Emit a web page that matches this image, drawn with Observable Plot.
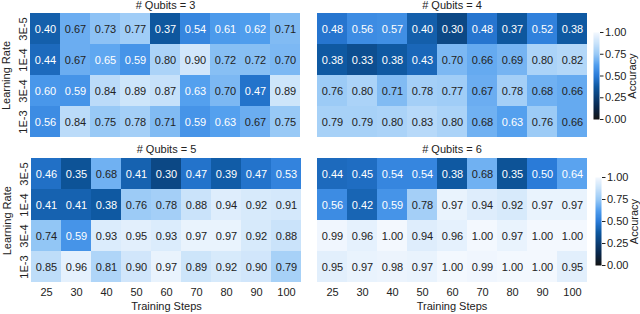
<!DOCTYPE html>
<html><head><meta charset="utf-8">
<script src="https://cdn.jsdelivr.net/npm/d3@7"></script>
<script src="https://cdn.jsdelivr.net/npm/@observablehq/plot@0.6"></script>
<style>
body{margin:0;background:#fff;}
#chart{position:relative;width:640px;height:314px;overflow:hidden;font-family:"Liberation Sans",Arial,sans-serif;}
#chart svg{position:absolute;overflow:visible;}
</style></head><body><div id="chart"></div>
<script>
const steps = [25, 30, 40, 50, 60, 70, 80, 90, 100];
const learningRates = ["3E-5", "1E-4", "3E-4", "1E-3"];
const qubits = [3, 4, 5, 6];
const acc3 = [
  [0.40, 0.67, 0.73, 0.77, 0.37, 0.54, 0.61, 0.62, 0.71],
  [0.44, 0.67, 0.65, 0.59, 0.80, 0.90, 0.72, 0.72, 0.70],
  [0.60, 0.59, 0.84, 0.89, 0.87, 0.63, 0.70, 0.47, 0.89],
  [0.56, 0.84, 0.75, 0.78, 0.71, 0.59, 0.63, 0.67, 0.75]
];
const acc4 = [
  [0.48, 0.56, 0.57, 0.40, 0.30, 0.48, 0.37, 0.52, 0.38],
  [0.38, 0.33, 0.38, 0.43, 0.70, 0.66, 0.69, 0.80, 0.82],
  [0.76, 0.80, 0.71, 0.78, 0.77, 0.67, 0.78, 0.68, 0.66],
  [0.79, 0.79, 0.80, 0.83, 0.80, 0.68, 0.63, 0.76, 0.66]
];
const acc5 = [
  [0.46, 0.35, 0.68, 0.41, 0.30, 0.47, 0.39, 0.47, 0.53],
  [0.41, 0.41, 0.38, 0.76, 0.78, 0.88, 0.94, 0.92, 0.91],
  [0.74, 0.59, 0.93, 0.95, 0.93, 0.97, 0.97, 0.92, 0.88],
  [0.85, 0.96, 0.81, 0.90, 0.97, 0.89, 0.92, 0.90, 0.79]
];
const acc6 = [
  [0.44, 0.45, 0.54, 0.54, 0.38, 0.68, 0.35, 0.50, 0.64],
  [0.56, 0.42, 0.59, 0.78, 0.97, 0.94, 0.92, 0.97, 0.97],
  [0.99, 0.96, 1.00, 0.94, 0.96, 1.00, 0.97, 1.00, 1.00],
  [0.95, 0.97, 0.98, 0.97, 1.00, 0.99, 1.00, 1.00, 0.95]
];
const colorbarTicks = [0, 0.25, 0.5, 0.75, 1];
const colorStops = ["#141414", "#0a2546", "#0b3d73", "#0e58a0", "#2a7bd8", "#519eee", "#98c9f6", "#c8e2fa", "#f3f8fe"];

const FONT = '"Liberation Sans", Arial, sans-serif';
const TXT = "#222";
const colorScale = () => ({type: "linear", domain: [0, 1], interpolate: d3.piecewise(d3.interpolateRgb, colorStops)});
const chart = document.getElementById("chart");

function place(svg, left, top) {
  svg.style.left = left + "px";
  svg.style.top = top + "px";
  chart.appendChild(svg);
}

function panel(q, acc, o) {
  const data = [];
  acc.forEach((row, i) => row.forEach((v, j) => data.push({lr: learningRates[i], step: steps[j], acc: v})));
  const marks = [
    Plot.cell(data, {x: "step", y: "lr", fill: "acc"}),
    Plot.text(data.filter(d => d.acc < 0.655), {x: "step", y: "lr", text: d => d.acc.toFixed(2), fill: "white", fontSize: 11}),
    Plot.text(data.filter(d => d.acc >= 0.655), {x: "step", y: "lr", text: d => d.acc.toFixed(2), fill: TXT, fontSize: 11}),
    Plot.text([`# Qubits = ${q}`], {frameAnchor: "top", lineAnchor: "middle", dy: -8, fontSize: 11, fill: TXT})
  ];
  if (o.left) marks.push(Plot.axisY({tickSize: 0, tickPadding: 3, rotate: -90, textAnchor: "middle", lineAnchor: "bottom", label: "Learning Rate", labelAnchor: "center", labelArrow: "none", labelOffset: 27, fontSize: 11, fill: TXT}));
  if (o.bottom) marks.push(Plot.axisX({tickSize: 0, tickPadding: 4, label: "Training Steps", labelAnchor: "center", labelArrow: "none", labelOffset: 26, fontSize: 11, fill: TXT}));
  return Plot.plot({
    width: o.width, height: o.height,
    marginLeft: o.ml, marginRight: o.mr, marginTop: o.mt, marginBottom: o.mb,
    style: {fontFamily: FONT, fontSize: "11px", color: TXT, background: "transparent"},
    x: {type: "band", domain: steps, padding: 0, axis: o.bottom ? undefined : null},
    y: {type: "band", domain: learningRates, padding: 0, axis: o.left ? undefined : null},
    color: colorScale(),
    marks
  });
}

function colorbar(o) {
  return Plot.plot({
    width: o.width, height: o.height,
    marginLeft: o.ml, marginRight: o.mr, marginTop: o.mt, marginBottom: o.mb,
    style: {fontFamily: FONT, fontSize: "11px", color: TXT, background: "transparent"},
    x: {domain: [0, 1], axis: null},
    y: {domain: [0, 1], axis: null},
    color: colorScale(),
    marks: [
      Plot.raster({x1: 0, x2: 1, y1: 0, y2: 1, width: 1, height: 256, fill: (x, y) => y}),
      Plot.axisY({anchor: "right", ticks: colorbarTicks, tickFormat: d => d.toFixed(2), tickSize: 3.5, tickPadding: 2, label: null, fontSize: 11, fill: TXT}),
      Plot.text(["Accuracy"], {frameAnchor: "right", rotate: -90, dx: 33, lineAnchor: "middle", textAnchor: "middle", fontSize: 11, fill: TXT})
    ]
  });
}

const accs = [acc3, acc4, acc5, acc6];
place(panel(qubits[0], accs[0], {left: true, bottom: false, width: 305, height: 140, ml: 29, mr: 4, mt: 13, mb: 3}), 0, 0);
place(panel(qubits[1], accs[1], {left: false, bottom: false, width: 277, height: 140, ml: 4, mr: 2, mt: 13, mb: 3}), 312, 0);
place(panel(qubits[2], accs[2], {left: true, bottom: true, width: 306, height: 170, ml: 30, mr: 4, mt: 13, mb: 30.5}), 0, 144);
place(panel(qubits[3], accs[3], {left: false, bottom: true, width: 277, height: 170, ml: 4, mr: 2, mt: 13, mb: 30.5}), 312, 144);
place(colorbar({width: 48, height: 140, ml: 5, mr: 37, mt: 32, mb: 21}), 588, 0);
place(colorbar({width: 46, height: 170, ml: 5, mr: 35, mt: 33, mb: 49}), 590, 144);
</script></body></html>
